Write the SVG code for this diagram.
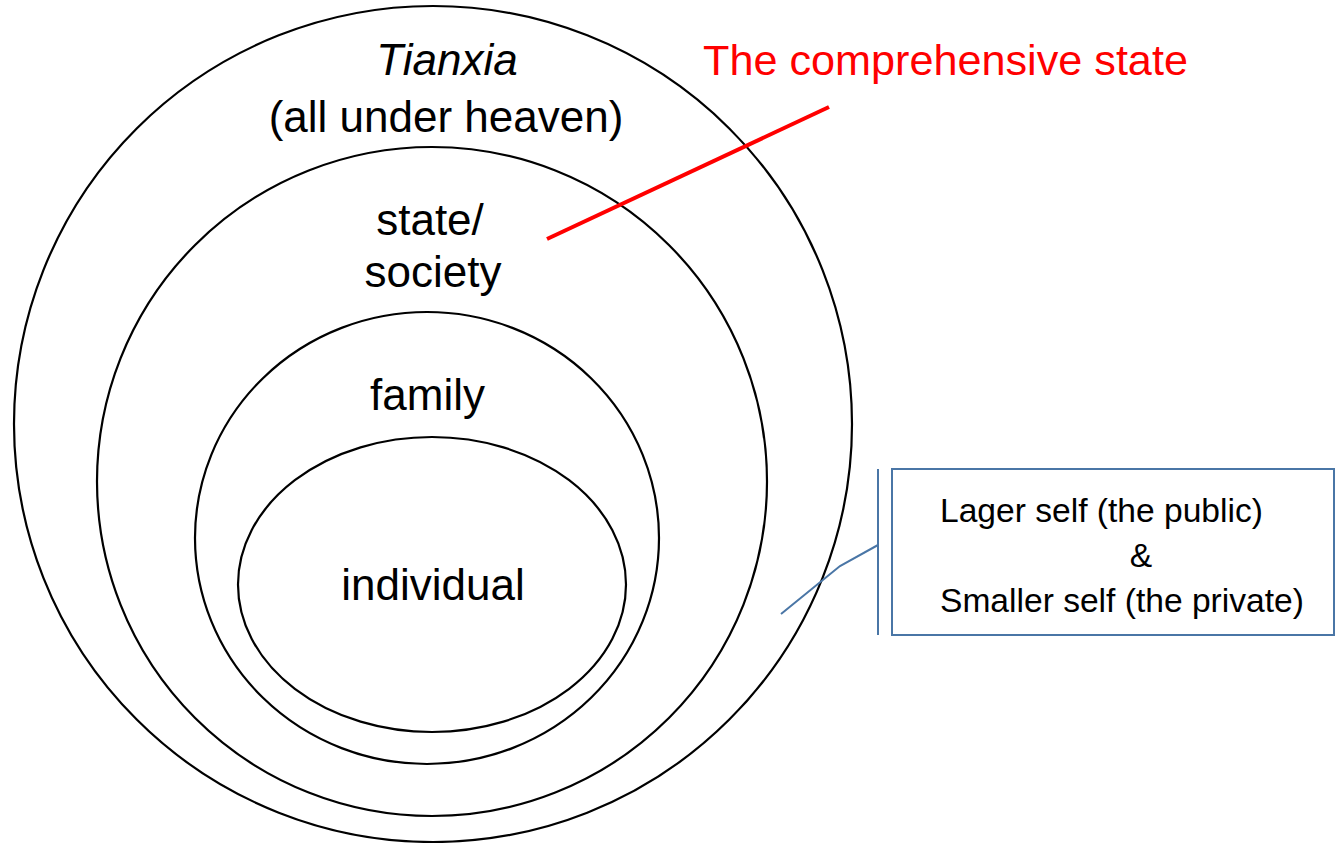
<svg xmlns="http://www.w3.org/2000/svg" width="1335" height="843" viewBox="0 0 1335 843">
<style>
.ring{fill:none;stroke:#000;stroke-width:2.2}
.lbl{font-family:"Liberation Sans",Arial,sans-serif;font-size:44px;fill:#000;text-anchor:middle}
.box{font-family:"Liberation Sans",Arial,sans-serif;font-size:33.6px;fill:#000}
.blue{fill:none;stroke:#4a76a6;stroke-width:2}
</style>
<rect width="1335" height="843" fill="#fff"/>
<g id="tianxia">
<ellipse class="ring" cx="433" cy="424" rx="419" ry="418"/>
<text class="lbl" x="447" y="75" font-style="italic">Tianxia</text>
<text class="lbl" x="446" y="132">(all under heaven)</text>
</g>
<g id="state">
<ellipse class="ring" cx="432" cy="481.5" rx="335" ry="334.5"/>
<text class="lbl" x="430" y="235">state/</text>
<text class="lbl" x="433" y="287">society</text>
</g>
<g id="family">
<ellipse class="ring" cx="427" cy="538" rx="232" ry="226"/>
<text class="lbl" x="427.5" y="410">family</text>
</g>
<g id="individual">
<ellipse class="ring" cx="432" cy="584.5" rx="194" ry="147.5"/>
<text class="lbl" x="433" y="600">individual</text>
</g>
<g id="comprehensive-state">
<text x="703" y="75" font-family="'Liberation Sans',Arial,sans-serif" font-size="43.2" fill="#ff0000">The comprehensive state</text>
</g>
<g id="callout">
<rect class="blue" x="892" y="469" width="442" height="166"/>
<text class="box" x="940" y="522">Lager self (the public)</text>
<text class="box" x="1141" y="567" text-anchor="middle">&amp;</text>
<text class="box" x="940" y="612">Smaller self (the private)</text>
</g>
<g id="connectors">
<line x1="547" y1="239" x2="829" y2="107" stroke="#ff0000" stroke-width="4"/>
<line class="blue" x1="878" y1="469" x2="878" y2="635"/>
<polyline class="blue" points="878,545 840,566 781,614"/>
</g>
</svg>
